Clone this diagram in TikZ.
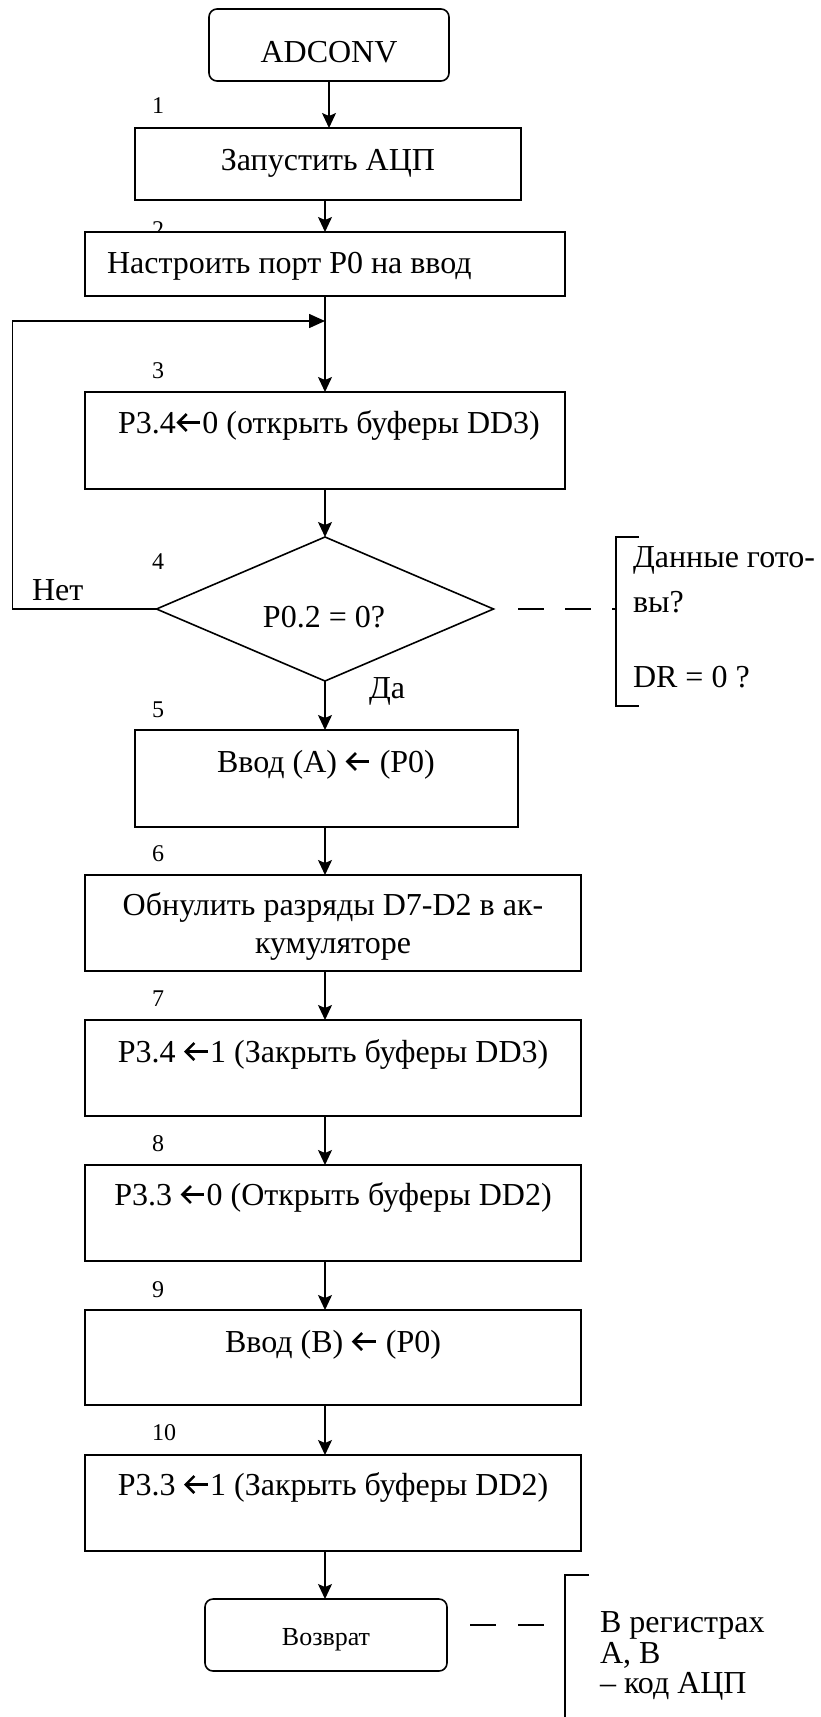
\documentclass[tikz,border=0pt]{standalone}
\usepackage{fontspec}
\setmainfont{Liberation Serif}
\usetikzlibrary{arrows.meta,shapes.geometric}

% bold left arrow used inside the assignment texts
\newsavebox\arrbox
\newcommand{\larr}{\hspace{1pt}\usebox\arrbox\hspace{1pt}}

\begin{document}
\sbox\arrbox{\begin{pgfpicture}%
  \pgfsetbaseline{-10.5pt}%
  \pgfsetlinewidth{2.6pt}%
  \pgfsetbuttcap
  \pgfpathmoveto{\pgfpoint{1pt}{0pt}}\pgfpathlineto{\pgfpoint{23pt}{0pt}}%
  \pgfusepath{stroke}%
  \pgfsetmiterjoin
  \pgfpathmoveto{\pgfpoint{9.5pt}{8.5pt}}\pgfpathlineto{\pgfpoint{1pt}{0pt}}%
  \pgfpathlineto{\pgfpoint{9.5pt}{-8.5pt}}%
  \pgfusepath{stroke}%
\end{pgfpicture}}%
\begin{tikzpicture}[x=1pt,y=-1pt,
  every node/.style={inner sep=0pt, outer sep=0pt},
  box/.style={draw, line width=1.8pt, fill=white, rectangle},
  term/.style={draw, line width=1.6pt, fill=white, rectangle, rounded corners=8pt},
  txt/.style={anchor=base, font=\fontsize{32}{38}\selectfont},
  ltxt/.style={anchor=base west, font=\fontsize{32}{38}\selectfont},
  num/.style={anchor=base west, font=\fontsize{24}{28}\selectfont},
  flow/.style={line width=1.4pt, -{Stealth[length=15pt,width=14pt,inset=3pt]}},
  back/.style={line width=1.6pt, -{Triangle[length=16pt,width=14pt]}},
  link/.style={line width=1.5pt, dash pattern=on 26pt off 21pt},
  brace/.style={line width=1.5pt}]
\useasboundingbox (0,0) rectangle (820,1717);

% step numbers (drawn first so the boxes cover their lower edge)
\node[num] (n1) at (152,113) {1};
\node[num] (n2) at (152,237) {2};
\node[num] (n3) at (152,378) {3};
\node[num] (n4) at (152,569) {4};
\node[num] (n5) at (152,717) {5};
\node[num] (n6) at (152,861) {6};
\node[num] (n7) at (152,1006) {7};
\node[num] (n8) at (152,1151) {8};
\node[num] (n9) at (152,1297) {9};
\node[num] (n10) at (152,1440) {10};

% blocks
\node[term, minimum width=240pt, minimum height=72pt] (start) at (329,45) {};
\node[box, minimum width=386pt, minimum height=72pt] (b1) at (328,164) {};
\node[box, minimum width=480pt, minimum height=64pt] (b2) at (325,264) {};
\node[box, minimum width=480pt, minimum height=97pt] (b3) at (325,440.5) {};
\node[draw, line width=1.6pt, fill=white, diamond, shape aspect=2.34,
      minimum width=337pt, minimum height=144pt] (d4) at (325,609) {};
\node[box, minimum width=383pt, minimum height=97pt] (b5) at (326.5,778.5) {};
\node[box, minimum width=496pt, minimum height=96pt] (b6) at (333,923) {};
\node[box, minimum width=496pt, minimum height=96pt] (b7) at (333,1068) {};
\node[box, minimum width=496pt, minimum height=96pt] (b8) at (333,1213) {};
\node[box, minimum width=496pt, minimum height=95pt] (b9) at (333,1357.5) {};
\node[box, minimum width=496pt, minimum height=96pt] (b10) at (333,1503) {};
\node[term, minimum width=242pt, minimum height=72pt] (stop) at (326,1635) {};

% block texts
\node[txt] (t0) at (329,62) {ADCONV};
\node[txt] (t1) at (328,170) {Запустить АЦП};
\node[ltxt] (t2) at (107,273) {Настроить порт P0 на ввод};
\node[txt] (t3) at (329,433) {P3.4\larr0 (открыть буферы DD3)};
\node[txt] (t4) at (324,627) {P0.2 = 0?};
\node[txt] (t5) at (326,772) {Ввод (A) \larr\ (P0)};
\node[txt] (t6a) at (333,915) {Обнулить разряды D7-D2 в ак-};
\node[txt] (t6b) at (333,953) {кумуляторе};
\node[txt] (t7) at (333,1062) {P3.4 \larr1 (Закрыть буферы DD3)};
\node[txt] (t8) at (333,1205) {P3.3 \larr0 (Открыть буферы DD2)};
\node[txt] (t9) at (333,1352) {Ввод (B) \larr\ (P0)};
\node[txt] (t10) at (333,1495) {P3.3 \larr1 (Закрыть буферы DD2)};
\node[anchor=base, font=\fontsize{26}{30}\selectfont] (t11) at (326,1645) {Возврат};

% branch labels
\node[ltxt] (no) at (32,600) {Нет};
\node[ltxt] (yes) at (369,698) {Да};

% comments
\node[ltxt] (c1a) at (633,567) {Данные гото-};
\node[ltxt] (c1b) at (633,612) {вы?};
\node[ltxt] (c1c) at (633,687) {DR = 0 ?};
\node[ltxt] (c2a) at (600,1632) {В регистрах};
\node[ltxt] (c2b) at (600,1663) {A, B};
\node[ltxt] (c2c) at (600,1693) {– код АЦП};

% main flow
\draw[flow] (start.south) -- (start.south |- b1.north);
\draw[flow] ([xshift=-3pt]b1.south) -- ([xshift=-3pt]b1.south |- b2.north);
\coordinate (j3) at (325,321);
\draw[flow] (b2.south) -- (b3.north);
\draw[flow] (b3.south) -- (d4.north);
\draw[flow] (d4.south) -- (d4.south |- b5.north);
\draw[flow] (d4.south |- b5.south) -- (d4.south |- b6.north);
\draw[flow] (d4.south |- b6.south) -- (d4.south |- b7.north);
\draw[flow] (d4.south |- b7.south) -- (d4.south |- b8.north);
\draw[flow] (d4.south |- b8.south) -- (d4.south |- b9.north);
\draw[flow] (d4.south |- b9.south) -- (d4.south |- b10.north);
\draw[flow] (d4.south |- b10.south) -- (d4.south |- stop.north);

% "no" branch back to the start of step 3
\draw[back] (d4.west) -- (12.5,609) -- (12.5,321) -- (j3);

% comment brackets and their dashed links
\coordinate (k1) at (518,609);
\coordinate (k1e) at (616,609);
\draw[link] (k1) -- (k1e);
\draw[brace] (639,537) -- (616,537) -- (616,706) -- (639,706);
\coordinate (k2) at (470,1625);
\coordinate (k2e) at (565,1625);
\draw[link, dash pattern=on 26pt off 22pt] (k2) -- (k2e);
\draw[brace] (589,1575) -- (565,1575) -- (565,1720);
\end{tikzpicture}
\end{document}
